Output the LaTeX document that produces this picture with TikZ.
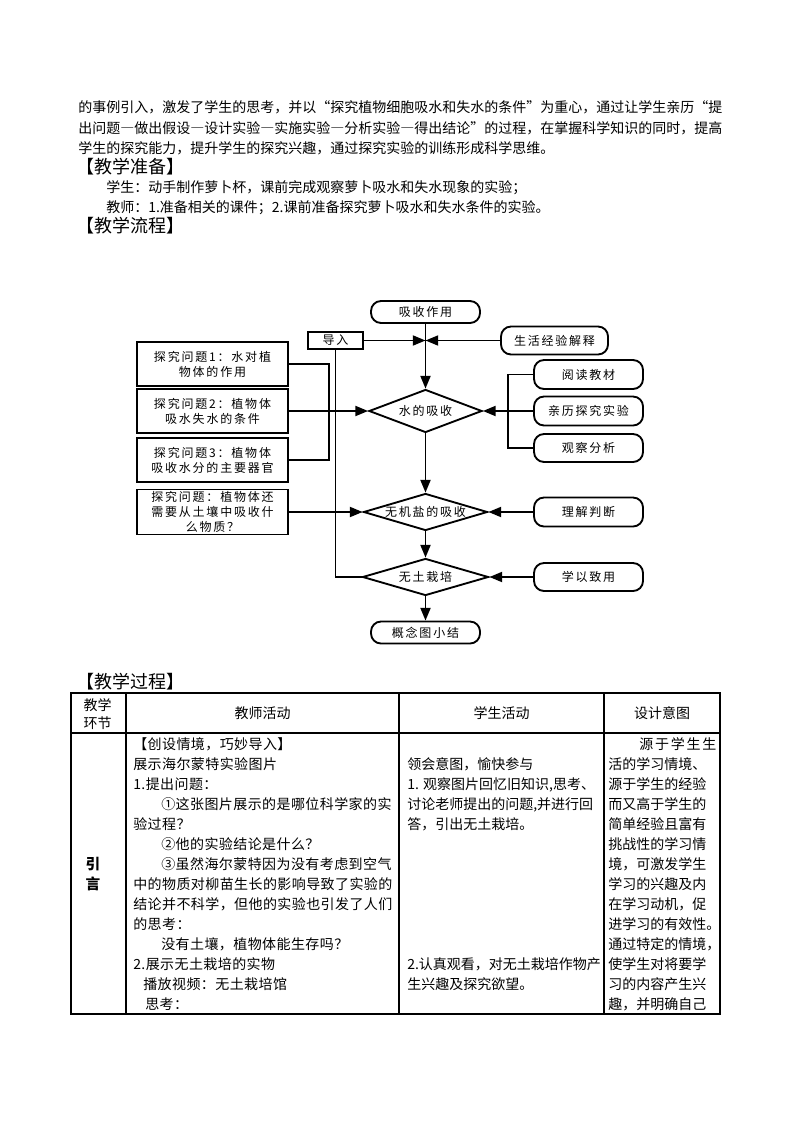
\documentclass[tikz,border=0pt]{standalone}
\usepackage{fontspec}
\setmainfont{Noto Sans CJK SC}
\newfontfamily\fw[RawFeature=+fwid]{Noto Sans CJK SC}
\newfontfamily\tabfont[LetterSpace=3]{Noto Sans CJK SC}
\newfontfamily\flowfont[LetterSpace=15]{Noto Sans CJK SC}
\usetikzlibrary{shapes.geometric,arrows.meta}
\makeatletter
\newcommand\spreadline[2]{\makebox[#1][s]{\def\sl@sep{}\@tfor\sl@c:=#2\do{\sl@sep{\sl@c}\def\sl@sep{\hskip 0pt plus 1fil}}}}
\makeatother
\begin{document}
\begin{tikzpicture}[x=0.75pt,y=-0.75pt,
  body/.style={inner sep=0pt, anchor=west, font=\fontsize{10.5}{12}\selectfont, text height=9.24pt, text depth=1.26pt},
  tch/.style={body, font=\tabfont\fontsize{10.5}{12}\selectfont},
  hd/.style={inner sep=0pt, anchor=west, font=\fontsize{13.5}{16}\selectfont, text height=11.9pt, text depth=1.6pt},
  hcell/.style={inner sep=0pt, anchor=center, font=\fontsize{10.5}{12}\selectfont, text height=9.24pt, text depth=1.26pt},
  flow/.style={inner sep=0pt, font=\flowfont\fontsize{9}{11.25}\selectfont, line width=1.4pt, draw},
  sbox/.style={flow, rectangle, align=center},
  rbox/.style={flow, rectangle, rounded corners=7.5pt},
  dia/.style={flow, diamond, aspect=3.4},
  sz/.style 2 args={minimum width=#1*0.75pt, minimum height=#2*0.75pt},
  conn/.style={line width=1.4pt},
  arr/.style={conn, -{Triangle[length=9.5pt,width=7.5pt]}},
  tab/.style={line width=0.8pt}
]
\fill[white] (0,0) rectangle (794,1123);
\useasboundingbox (0,0) rectangle (794,1123);

% ---------- top text ----------
\node[body] (p1) at (78,107) {\spreadline{483pt}{的事例引入，激发了学生的思考，并以{\fw “}探究植物细胞吸水和失水的条件{\fw ”}为重心，通过让学生亲历{\fw “}提}};
\node[body] (p2) at (78,128) {\spreadline{483pt}{出问题{\fw —}做出假设{\fw —}设计实验{\fw —}实施实验{\fw —}分析实验{\fw —}得出结论{\fw ”}的过程，在掌握科学知识的同时，提高}};
\node[body] (p3) at (78,148) {学生的探究能力，提升学生的探究兴趣，通过探究实验的训练形成科学思维。};
\node[hd] (h1) at (76,167) {【教学准备】};
\node[body] (s1) at (106,187) {学生：动手制作萝卜杯，课前完成观察萝卜吸水和失水现象的实验；};
\node[body] (s2) at (106,207) {教师：1.准备相关的课件；2.课前准备探究萝卜吸水和失水条件的实验。};
\node[hd] (h2) at (76,226) {【教学流程】};

% ---------- flowchart ----------
\node[rbox, sz={109}{22}] (xs) at (425.5,312) {吸收作用};
\node[sbox, sz={55}{17}] (dr) at (335.5,340.5) {导入};
\node[rbox, sz={107}{28}] (sh) at (554.5,340.5) {生活经验解释};
\node[sbox, sz={151}{44}] (b1) at (212.5,364) {探究问题1：水对植\\物体的作用};
\node[sbox, sz={151}{44}] (b2) at (212.5,411) {探究问题2：植物体\\吸水失水的条件};
\node[sbox, sz={151}{44}] (b3) at (212.5,460) {探究问题3：植物体\\吸收水分的主要器官};
\node[sbox, sz={151}{45}] (b4) at (212.5,512) {探究问题：植物体还\\需要从土壤中吸收什\\么物质？};
\node[dia, sz={113}{43}] (d1) at (425.5,411) {水的吸收};
\node[rbox, sz={109}{29}] (r1) at (588.5,374.5) {阅读教材};
\node[rbox, sz={109}{29}] (r2) at (588.5,411) {亲历探究实验};
\node[rbox, sz={109}{28}] (r3) at (588.5,448) {观察分析};
\node[dia, sz={124}{37}] (d2) at (425.5,512) {无机盐的吸收};
\node[rbox, sz={109}{29}] (r4) at (588.5,512) {理解判断};
\node[dia, sz={126}{37}] (d3) at (425.5,577) {无土栽培};
\node[rbox, sz={109}{28}] (r5) at (588.5,577) {学以致用};
\node[rbox, sz={109}{22}] (gn) at (425.5,632.5) {概念图小结};

\coordinate (J) at (425.5,340.5);
\coordinate (LB) at (329,411);
\coordinate (RB) at (508,411);
\draw[arr] (dr.east) -- (J);
\draw[arr] (sh.west) -- (J);
\draw[arr] (xs.south) -- (d1.north);
\draw[conn] (b1.east) -| (LB) |- (b3.east);
\draw[arr] (b2.east) -- (d1.west);
\draw[conn] (r1.west) -| (RB) |- (r3.west);
\draw[arr] (r2.west) -- (d1.east);
\draw[arr] (d1.south) -- (d2.north);
\draw[arr] (b4.east) -- (d2.west);
\draw[arr] (r4.west) -- (d2.east);
\draw[arr] (d2.south) -- (d3.north);
\draw[arr] (r5.west) -- (d3.east);
\draw[conn] (dr.south) |- (d3.west);
\draw[arr] (d3.south) -- (gn.north);

% ---------- table ----------
\node[hd] (h3) at (76,682) {【教学过程】};
\draw[tab] (71,693) rectangle (720,1014);
\draw[tab] (71,733) -- (720,733);
\foreach \cx in {126,399,604} {\draw[tab] (\cx,693) -- (\cx,1014);}

\node[hcell] (hA1) at (97.5,705) {教学};
\node[hcell] (hA2) at (97.5,723) {环节};
\node[hcell] (hB) at (262.5,713) {教师活动};
\node[hcell] (hC) at (501.5,713) {学生活动};
\node[hcell] (hD) at (662,713) {设计意图};

\node[hcell, font=\bfseries\fontsize{11}{12}\selectfont] (yin) at (93,864) {引};
\node[hcell, font=\bfseries\fontsize{11}{12}\selectfont] (yan) at (93,884) {言};

\foreach \xx/\txt [count=\i] in {
  133/{【创设情境，巧妙导入】},
  133/{展示海尔蒙特实验图片},
  133/{1.提出问题：},
  161/{①这张图片展示的是哪位科学家的实},
  133/{验过程？},
  161/{②他的实验结论是什么？},
  161/{③虽然海尔蒙特因为没有考虑到空气},
  133/{中的物质对柳苗生长的影响导致了实验的},
  133/{结论并不科学，但他的实验也引发了人们},
  133/{的思考：},
  161/{没有土壤，植物体能生存吗？},
  133/{2.展示无土栽培的实物},
  143/{播放视频：无土栽培馆},
  145/{思考：}}
  {\node[tch] (tc\i) at (\xx,{744+20*(\i-1)}) {\txt};}

\foreach \yy/\txt [count=\i] in {
  764/{领会意图，愉快参与},
  784/{1. 观察图片回忆旧知识,思考、},
  804/{讨论老师提出的问题,并进行回},
  824/{答，引出无土栽培。},
  964/{2.认真观看，对无土栽培作物产},
  984/{生兴趣及探究欲望。}}
  {\node[body] (sc\i) at (407,\yy) {\txt};}

\node[body] (ds1) at (639,744) {\spreadline{57.75pt}{源于学生生}};
\foreach \txt [count=\i from 2] in {
  {活的学习情境、},
  {源于学生的经验},
  {而又高于学生的},
  {简单经验且富有},
  {挑战性的学习情},
  {境，可激发学生},
  {学习的兴趣及内},
  {在学习动机，促},
  {进学习的有效性。},
  {通过特定的情境，},
  {使学生对将要学},
  {习的内容产生兴},
  {趣，并明确自己}}
  {\node[body] (ds\i) at (608,{744+20*(\i-1)}) {\spreadline{81pt}{\txt}};}
\end{tikzpicture}
\end{document}
